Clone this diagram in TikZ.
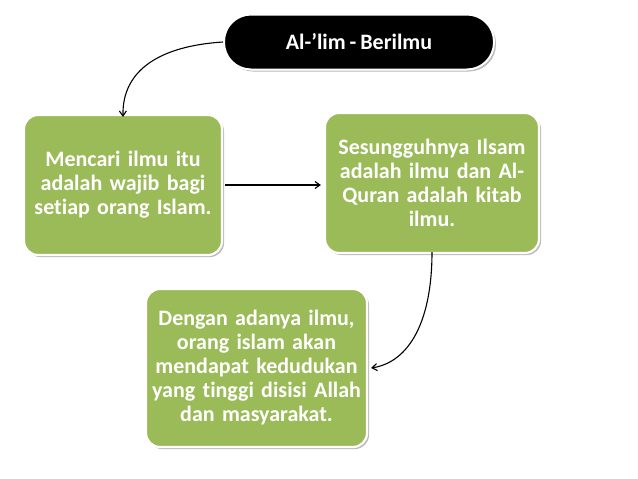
\documentclass[tikz,border=0pt]{standalone}
\usepackage{fontspec}
\setmainfont{Carlito}[Ligatures=NoCommon,WordSpace=0.8]
\usetikzlibrary{shadows,arrows.meta}
\definecolor{boxgreen}{HTML}{9BBB59}
\begin{document}
\begin{tikzpicture}[x=1pt,y=-1pt,
  greenbox/.style={draw=white,line width=2.2pt,fill=boxgreen,rounded corners=14pt,
    drop shadow={shadow xshift=2pt,shadow yshift=-2pt,opacity=0.45,fill=black!60},
    text=white,font=\bfseries\fontsize{22}{24}\selectfont,align=center,inner sep=0pt},
  pill/.style={draw=white,line width=2pt,fill=black,rounded corners=27pt,
    drop shadow={shadow xshift=2pt,shadow yshift=-2pt,opacity=0.45,fill=black!60},
    text=white,font=\bfseries\fontsize{22}{24}\selectfont,inner sep=0pt},
  conn/.style={line width=1.1pt,-{Straight Barb[length=5pt,width=7pt]}}]
\useasboundingbox (0,0) rectangle (638,479);
\node[pill,minimum width=270pt,minimum height=55pt] (top) at (359,42) {Al-’lim - Berilmu};
\node[greenbox,minimum width=198pt,minimum height=140pt,text width=196pt] (b1) at (123,185)
  {Mencari ilmu itu\\adalah wajib bagi\\setiap orang Islam.};
\node[greenbox,minimum width=214pt,minimum height=140pt,text width=212pt] (b2) at (432,183)
  {Sesungguhnya Ilsam\\adalah ilmu dan Al-\\Quran adalah kitab\\ilmu.};
\node[greenbox,minimum width=221pt,minimum height=158pt,text width=219pt] (b3) at (256.5,368)
  {Dengan adanya ilmu,\\orang islam akan\\mendapat kedudukan\\yang tinggi disisi Allah\\dan masyarakat.};
\draw[conn] (top.west) .. controls (160,46) and (122,70) .. ([yshift=-3pt]b1.north);
\draw[conn] (b1.east) ++(2pt,0) coordinate (s) -- ([xshift=-3pt]b2.west |- s);
\draw[conn] ([yshift=2pt]b2.south) .. controls (432,320) and (410,362) .. ([xshift=3pt]b3.east);
\end{tikzpicture}
\end{document}
